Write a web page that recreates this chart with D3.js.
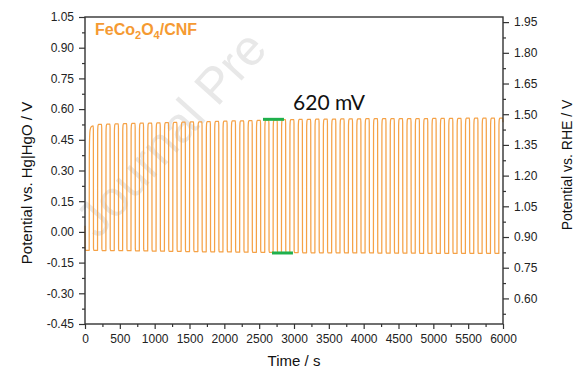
<!DOCTYPE html>
<html>
<head>
<meta charset="utf-8">
<script src="https://cdn.jsdelivr.net/npm/d3@7"></script>
<style>
  body { margin: 0; background: #fff; }
  svg { display: block; }
</style>
</head>
<body>
<div id="chart"></div>
<script>
// Tick labels
const xTicks = [0, 500, 1000, 1500, 2000, 2500, 3000, 3500, 4000, 4500, 5000, 5500, 6000];
const yTicks = [-0.45, -0.30, -0.15, 0.00, 0.15, 0.30, 0.45, 0.60, 0.75, 0.90, 1.05];
const rheTicks = [0.60, 0.75, 0.90, 1.05, 1.20, 1.35, 1.50, 1.65, 1.80, 1.95];

// RHE = Hg|HgO + offset
const rheOffset = 0.925;

// Galvanostatic cycling: each cycle 120 s (60 s high, 60 s low), first step up at 60 s
const cycleTime = 120;
const firstRise = 60;
const startV = 0.03;
const cycleHigh = [
  0.518, 0.525, 0.527, 0.528, 0.529, 0.530, 0.531, 0.532, 0.533, 0.534,
  0.535, 0.536, 0.537, 0.538, 0.539, 0.540, 0.541, 0.542, 0.543, 0.544,
  0.545, 0.546, 0.547, 0.548, 0.549, 0.550, 0.550, 0.551, 0.551, 0.551,
  0.552, 0.552, 0.552, 0.553, 0.553, 0.553, 0.553, 0.554, 0.554, 0.554,
  0.554, 0.555, 0.555, 0.555, 0.555, 0.556, 0.556, 0.556, 0.556, 0.556
];
const cycleLow = [
  -0.090, -0.090, -0.091, -0.091, -0.092, -0.092, -0.093, -0.093, -0.094, -0.094,
  -0.095, -0.095, -0.096, -0.096, -0.097, -0.097, -0.098, -0.098, -0.099, -0.099,
  -0.100, -0.100, -0.100, -0.101, -0.101, -0.101, -0.102, -0.102, -0.102, -0.102,
  -0.103, -0.103, -0.103, -0.103, -0.103, -0.104, -0.104, -0.104, -0.104, -0.104,
  -0.105, -0.105, -0.105, -0.105, -0.105, -0.105, -0.105, -0.105, -0.105, -0.105
];

// Green markers for the 620 mV gap: [t0, t1, V]
const markerHigh = [2555, 2856, 0.550];
const markerLow = [2684, 2985, -0.103];

const width = 576, height = 386;
const margin = { top: 17, right: 73, bottom: 62, left: 85 };
const w = width - margin.left - margin.right;
const h = height - margin.top - margin.bottom;

const svg = d3.select("#chart").append("svg")
  .attr("width", width)
  .attr("height", height)
  .style("font-family", "'Liberation Sans', Arial, sans-serif");

// Watermark
svg.append("text")
  .attr("transform", "translate(98,240) rotate(-48)")
  .attr("font-size", 50)
  .attr("fill", "#e8e8e8")
  .text("Journal Pre");

const g = svg.append("g").attr("transform", `translate(${margin.left},${margin.top})`);

const x = d3.scaleLinear().domain([0, 6000]).range([0, w]);
const y = d3.scaleLinear().domain([-0.45, 1.05]).range([h, 0]);
const yR = d3.scaleLinear().domain([-0.45 + rheOffset, 1.05 + rheOffset]).range([h, 0]);

// Build the trace from the cycle levels
const pts = [[0, startV], [3, cycleLow[0] + 0.01], [8, cycleLow[0]]];
cycleHigh.forEach((hi, i) => {
  const lo = cycleLow[i];
  const nextLo = cycleLow[Math.min(i + 1, cycleLow.length - 1)];
  const t0 = firstRise + i * cycleTime;
  if (i === 0) {
    pts.push([t0, lo], [t0 + 2, 0.36], [t0 + 6, 0.46], [t0 + 14, 0.50], [t0 + 30, hi - 0.004], [t0 + 58, hi]);
  } else {
    pts.push([t0, lo], [t0 + 2, hi - 0.035], [t0 + 7, hi - 0.006], [t0 + 14, hi], [t0 + 58, hi]);
  }
  pts.push([t0 + 60, hi - 0.02], [t0 + 62, nextLo + 0.01], [t0 + 66, nextLo]);
  if (i < cycleHigh.length - 1) pts.push([t0 + cycleTime - 1, nextLo]);
});

const line = d3.line()
  .x(d => x(d[0]))
  .y(d => y(d[1]))
  .curve(d3.curveMonotoneX);

g.append("path")
  .datum(pts.filter(d => d[0] <= 6000))
  .attr("fill", "none")
  .attr("stroke", "#f5a247")
  .attr("stroke-width", 1.25)
  .attr("stroke-linejoin", "round")
  .attr("d", line);

// Markers
[markerHigh, markerLow].forEach(m => {
  g.append("line")
    .attr("x1", x(m[0])).attr("x2", x(m[1]))
    .attr("y1", y(m[2])).attr("y2", y(m[2]))
    .attr("stroke", "#1fb04c")
    .attr("stroke-width", 3);
});

g.append("text")
  .attr("x", x(2986))
  .attr("y", y(0.595))
  .attr("font-family", "Lato, 'Open Sans', sans-serif")
  .attr("font-size", 21)
  .attr("fill", "#111")
  .text("620 mV");

// Label
const lbl = g.append("text")
  .attr("x", 10)
  .attr("y", 18)
  .attr("font-size", 16)
  .attr("font-weight", "bold")
  .attr("fill", "#f59a32");
lbl.append("tspan").text("FeCo");
lbl.append("tspan").attr("font-size", 11).attr("dy", 4).text("2");
lbl.append("tspan").attr("dy", -4).text("O");
lbl.append("tspan").attr("font-size", 11).attr("dy", 4).text("4");
lbl.append("tspan").attr("dy", -4).text("/CNF");

// Axes
const axisColor = "#333";
function styleAxis(sel) {
  sel.select(".domain").remove();
  sel.selectAll("line").attr("stroke", axisColor).attr("stroke-width", 1.2);
  sel.selectAll("text").attr("fill", "#222").attr("font-size", 12)
    .style("font-family", "'Liberation Sans', Arial, sans-serif");
}

const xMinor = d3.range(250, 6000, 500);
const yMinor = yTicks.slice(0, -1).map(v => v + 0.075);
const rMinor = [0.525].concat(rheTicks.slice(0, -1).map(v => v + 0.075));

g.append("g").attr("transform", `translate(0,${h})`)
  .call(d3.axisBottom(x).tickValues(xMinor).tickSize(3).tickFormat(""))
  .call(styleAxis);
g.append("g").attr("transform", `translate(0,${h})`)
  .call(d3.axisBottom(x).tickValues(xTicks).tickSize(5).tickPadding(5).tickFormat(d3.format("d")))
  .call(styleAxis);

g.append("g")
  .call(d3.axisLeft(y).tickValues(yMinor).tickSize(3).tickFormat(""))
  .call(styleAxis);
g.append("g")
  .call(d3.axisLeft(y).tickValues(yTicks).tickSize(6).tickPadding(5).tickFormat(d => d.toFixed(2)))
  .call(styleAxis);

g.append("g").attr("transform", `translate(${w},0)`)
  .call(d3.axisRight(yR).tickValues(rMinor).tickSize(3).tickFormat(""))
  .call(styleAxis);
g.append("g").attr("transform", `translate(${w},0)`)
  .call(d3.axisRight(yR).tickValues(rheTicks).tickSize(6).tickPadding(5).tickFormat(d => d.toFixed(2)))
  .call(styleAxis);

// Frame
g.append("rect")
  .attr("width", w)
  .attr("height", h)
  .attr("fill", "none")
  .attr("stroke", axisColor)
  .attr("stroke-width", 1.4);

// Axis titles
g.append("text")
  .attr("x", w / 2)
  .attr("y", h + 42)
  .attr("text-anchor", "middle")
  .attr("font-size", 15)
  .attr("fill", "#111")
  .text("Time / s");

g.append("text")
  .attr("transform", "rotate(-90)")
  .attr("x", -166)
  .attr("y", -53)
  .attr("text-anchor", "middle")
  .attr("font-size", 15)
  .attr("fill", "#111")
  .text("Potential vs. Hg|HgO / V");

g.append("text")
  .attr("transform", "rotate(-90)")
  .attr("x", -148)
  .attr("y", w + 69)
  .attr("text-anchor", "middle")
  .attr("font-size", 14)
  .attr("fill", "#111")
  .text("Potential vs. RHE / V");
</script>
</body>
</html>
